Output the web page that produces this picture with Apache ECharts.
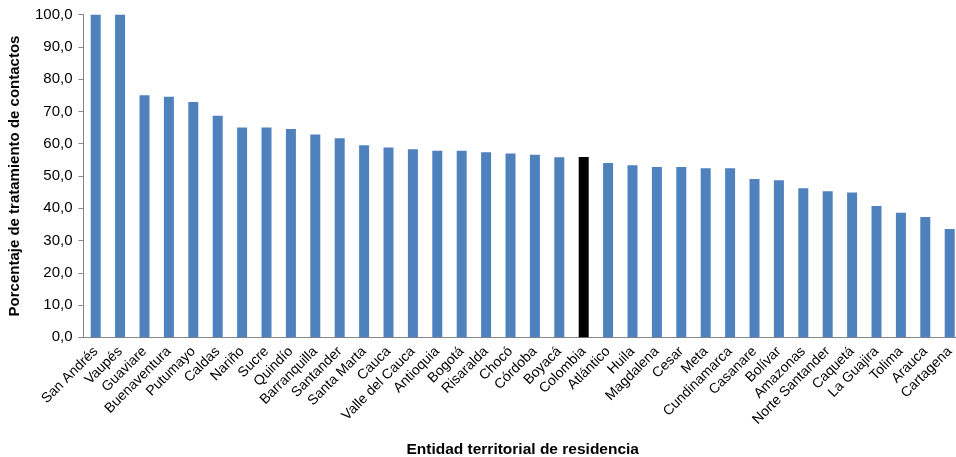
<!DOCTYPE html>
<html>
<head>
<meta charset="utf-8">
<script src="https://cdn.jsdelivr.net/npm/echarts@6/dist/echarts.min.js"></script>
<style>html,body{margin:0;padding:0;background:#fff;}#c{width:956px;height:457px;}</style>
</head>
<body>
<div id="c"></div>
<script>
const categories = ["San Andrés","Vaupés","Guaviare","Buenaventura","Putumayo","Caldas","Nariño","Sucre","Quindío","Barranquilla","Santander","Santa Marta","Cauca","Valle del Cauca","Antioquia","Bogotá","Risaralda","Chocó","Córdoba","Boyacá","Colombia","Atlántico","Huila","Magdalena","Cesar","Meta","Cundinamarca","Casanare","Bolívar","Amazonas","Norte Santander","Caquetá","La Guajira","Tolima","Arauca","Cartagena"];
const values = [100.0,100.0,75.0,74.6,72.9,68.7,65.0,65.0,64.6,62.9,61.7,59.5,58.8,58.3,57.8,57.8,57.4,57.0,56.6,55.8,55.9,54.0,53.3,52.8,52.8,52.4,52.4,49.1,48.7,46.2,45.3,44.9,40.7,38.6,37.3,33.6];
const highlight = "Colombia";
const yTicks = [0,10,20,30,40,50,60,70,80,90,100];

const chart = echarts.init(document.getElementById('c'));
chart.setOption({
  animation: false,
  grid: {left: 83.5, top: 14.7, width: 878.4, height: 322.6, containLabel: false, outerBoundsMode: 'none'},
  xAxis: {
    type: 'category',
    data: categories,
    name: 'Entidad territorial de residencia',
    nameLocation: 'middle',
    nameGap: 104,
    nameMoveOverlap: false,
    nameTextStyle: {fontFamily: 'Liberation Sans, Arial', fontSize: 15.5, fontWeight: 'bold', color: '#000'},
    axisLine: {lineStyle: {color: '#868686', width: 1}},
    axisTick: {alignWithLabel: false, length: 5, lineStyle: {color: '#868686'}},
    axisLabel: {interval: 0, rotate: 45, fontFamily: 'Liberation Sans, Arial', fontSize: 14, color: '#000', margin: 12}
  },
  yAxis: {
    type: 'value',
    min: yTicks[0], max: yTicks[yTicks.length-1], interval: 10,
    name: 'Porcentaje de tratamiento de contactos',
    nameLocation: 'middle',
    nameGap: 61,
    nameMoveOverlap: false,
    nameRotate: 90,
    nameTextStyle: {fontFamily: 'Liberation Sans, Arial', fontSize: 15, fontWeight: 'bold', color: '#000'},
    axisLine: {show: true, lineStyle: {color: '#868686', width: 1}},
    axisTick: {show: true, length: 5, lineStyle: {color: '#868686'}},
    splitLine: {show: false},
    axisLabel: {fontFamily: 'Liberation Sans, Arial', fontSize: 15, color: '#000', margin: 11,
      formatter: v => v.toFixed(1).replace('.', ',')}
  },
  series: [{
    type: 'bar',
    barWidth: 10,
    data: values.map((v, i) => categories[i] === highlight ? {value: v, itemStyle: {color: '#000'}} : v),
    itemStyle: {color: '#4f81bd'}
  }]
});
</script>
</body>
</html>
